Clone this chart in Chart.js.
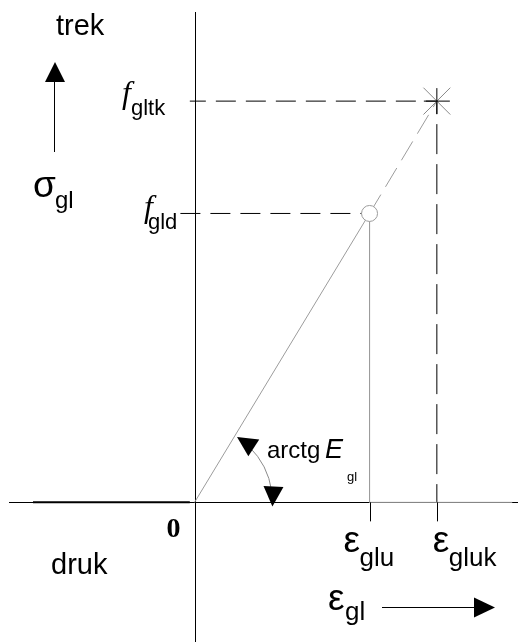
<!DOCTYPE html>
<html>
<head>
<meta charset="utf-8">
<script src="https://cdn.jsdelivr.net/npm/chart.js@4/dist/chart.umd.min.js"></script>
<style>
  html, body { margin: 0; padding: 0; background: #fff; }
  #wrap { width: 521px; height: 642px; }
</style>
</head>
<body>
<div id="wrap"><canvas id="chart"></canvas></div>
<script>
// strain on the horizontal axis: eps_glu, eps_gluk
const strainLabels = ["glu", "gluk"];
const strainValues = [2.6, 3.6];
// stress on the vertical axis: f_gld, f_gltk
const stressLabels = ["gld", "gltk"];
const stressValues = [3.6, 5.0];
// compression side carries no stress
const compressionStrain = [-2.4, -0.07];
const compressionStress = [0, 0];
// end of the flat tail after eps_glu
const tailStrain = 4.72;
// dashed leaders start just left of the vertical axis (f_gld, f_gltk)
const leaderStart = [-0.21, -0.07];

const xRange = [-2.89, 4.85];
const yRange = [-1.74, 6.26];

const GRAY = "#9c9c9c";
const SANS = "'Liberation Sans', Arial, sans-serif";
const SERIF = "'Liberation Serif', 'Times New Roman', serif";

const pt = (x, y) => ({ x: x, y: y });

const lineSet = (data, color, width, dash, dashOffset) => ({
  data: data,
  showLine: true,
  borderColor: color,
  borderWidth: width,
  borderDash: dash || [],
  borderDashOffset: dashOffset || 0,
  pointRadius: 0,
  fill: false,
  tension: 0,
});

const datasets = [
  // elastic limit marker
  {
    data: [pt(strainValues[0], stressValues[0])],
    pointStyle: "circle",
    pointRadius: 8,
    pointBackgroundColor: "#fff",
    pointBorderColor: GRAY,
    pointBorderWidth: 1,
    showLine: false,
  },
  // ultimate point star: upright strokes black, diagonals gray
  {
    data: [pt(strainValues[1], stressValues[1])],
    pointStyle: "cross",
    pointRadius: 13,
    pointBorderColor: "#000",
    pointBorderWidth: 1,
    showLine: false,
  },
  {
    data: [pt(strainValues[1], stressValues[1])],
    pointStyle: "crossRot",
    pointRadius: 19,
    pointBorderColor: "#888",
    pointBorderWidth: 1,
    showLine: false,
  },
  // linear branch, drop and flat tail
  lineSet(
    [pt(0, 0), pt(strainValues[0], stressValues[0]), pt(strainValues[0], 0), pt(tailStrain, 0)],
    GRAY, 1
  ),
  // dashed extension up to the star
  lineSet([pt(strainValues[0], stressValues[0]), pt(strainValues[1], stressValues[1])], GRAY, 1, [22, 9]),
  // leaders
  lineSet([pt(strainValues[1], stressValues[1]), pt(leaderStart[1], stressValues[1])], "#000", 1, [20, 10], 9),
  lineSet([pt(leaderStart[0], stressValues[0]), pt(strainValues[0], stressValues[0])], "#000", 1, [20, 10]),
  lineSet([pt(strainValues[1], stressValues[1]), pt(strainValues[1], 0)], "#000", 1, [30, 10], 17),
  // compression branch
  lineSet(compressionStrain.map((s, i) => pt(s, compressionStress[i])), "#000", 2),
];

function arrowHead(ctx, tx, ty, dx, dy, len, half) {
  const bx = tx - dx * len;
  const by = ty - dy * len;
  ctx.beginPath();
  ctx.moveTo(tx, ty);
  ctx.lineTo(bx - dy * half, by + dx * half);
  ctx.lineTo(bx + dy * half, by - dx * half);
  ctx.closePath();
  ctx.fill();
}

function subText(ctx, main, sub, x, y, mainFont, subFont, subDx, subDy) {
  ctx.font = mainFont;
  ctx.fillText(main, x, y);
  ctx.font = subFont;
  ctx.fillText(sub, x + subDx, y + subDy);
}

const sketchAxes = {
  id: "sketchAxes",
  beforeDatasetsDraw(chart) {
    const { ctx, chartArea, scales } = chart;
    const x0 = Math.round(scales.x.getPixelForValue(0)) + 0.5;
    const y0 = Math.round(scales.y.getPixelForValue(0)) + 0.5;
    ctx.save();
    ctx.strokeStyle = "#000";
    ctx.lineWidth = 1;
    ctx.beginPath();
    ctx.moveTo(x0, chartArea.top + 12);
    ctx.lineTo(x0, chartArea.bottom);
    ctx.moveTo(chartArea.left + 9, y0);
    ctx.lineTo(chartArea.right - 3, y0);
    ctx.stroke();
    ctx.restore();
  },
  afterDatasetsDraw(chart) {
    const { ctx, scales } = chart;
    const x0 = scales.x.getPixelForValue(0);
    const y0 = scales.y.getPixelForValue(0);
    ctx.save();
    ctx.fillStyle = "#000";
    ctx.strokeStyle = "#000";
    ctx.lineWidth = 1;

    // tick marks under the strain values
    ctx.beginPath();
    strainValues.forEach((v) => {
      const px = Math.round(scales.x.getPixelForValue(v)) + 0.5;
      ctx.moveTo(px, y0);
      ctx.lineTo(px, y0 + 19);
    });
    ctx.stroke();

    // direction arrows for stress and strain
    ctx.beginPath();
    ctx.moveTo(54.5, 152);
    ctx.lineTo(54.5, 80);
    ctx.moveTo(382, 607.5);
    ctx.lineTo(478, 607.5);
    ctx.stroke();
    arrowHead(ctx, 55, 62, 0, -1, 20, 10);
    arrowHead(ctx, 495, 607.5, 1, 0, 21, 10);

    // angle arc for the modulus
    const r = 78;
    const a1 = -57 * Math.PI / 180;
    const a2 = 3 * Math.PI / 180;
    ctx.strokeStyle = "#8a8a8a";
    ctx.beginPath();
    ctx.arc(x0, y0, r, a1 + 0.2, a2 - 0.2);
    ctx.stroke();
    arrowHead(ctx, x0 + r * Math.cos(a1), y0 + r * Math.sin(a1), Math.sin(a1), -Math.cos(a1), 20, 10);
    arrowHead(ctx, x0 + r * Math.cos(a2), y0 + r * Math.sin(a2), -Math.sin(a2), Math.cos(a2), 20, 10);

    // labels
    ctx.textBaseline = "alphabetic";
    ctx.textAlign = "left";
    ctx.font = "29px " + SANS;
    ctx.fillText("trek", 56, 35);
    ctx.fillText("druk", 51, 574);

    subText(ctx, "σ", "gl", 33, 197, "37px " + SANS, "24px " + SANS, 22, 11);

    const fg = scales.y.getPixelForValue(stressValues[0]);
    const ft = scales.y.getPixelForValue(stressValues[1]);
    subText(ctx, "f", stressLabels[1], 122, ft + 2, "italic 32px " + SERIF, "22px " + SANS, 9, 12);
    subText(ctx, "f", stressLabels[0], 144, fg + 4, "italic 32px " + SERIF, "22px " + SANS, 4, 12);

    ctx.font = "bold 28px " + SERIF;
    ctx.fillText("0", x0 - 28, y0 + 35);

    // eps_glu sits left of its tick, eps_gluk starts at its tick
    const epsShift = [-26, -4];
    strainValues.forEach((v, i) => {
      const px = scales.x.getPixelForValue(v);
      subText(ctx, "ε", strainLabels[i], px + epsShift[i], y0 + 50, "37px " + SANS, "26px " + SANS, 16, 14);
    });
    subText(ctx, "ε", "gl", 328, 610, "37px " + SANS, "26px " + SANS, 17, 10);

    ctx.font = "24px " + SANS;
    ctx.fillText("arctg", 267, 458);
    ctx.font = "italic 27px " + SANS;
    ctx.fillText("E", 325, 458);
    ctx.font = "13px " + SANS;
    ctx.fillText("gl", 347, 481);
    ctx.restore();
  },
};

const chart = new Chart(document.getElementById("chart"), {
  type: "scatter",
  data: { datasets: datasets },
  options: {
    responsive: true,
    maintainAspectRatio: false,
    animation: false,
    layout: { padding: 0, autoPadding: false },
    plugins: { legend: { display: false }, tooltip: { enabled: false } },
    scales: {
      x: { type: "linear", display: false, min: xRange[0], max: xRange[1] },
      y: { type: "linear", display: false, min: yRange[0], max: yRange[1] },
    },
  },
  plugins: [sketchAxes],
});
</script>
</body>
</html>
